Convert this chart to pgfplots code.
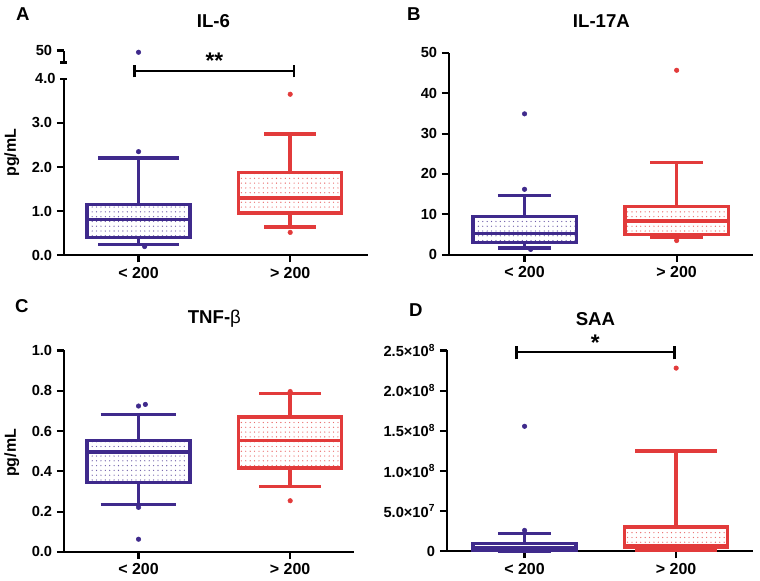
\documentclass[border=0pt]{standalone}
\usepackage{fontspec}
\setmainfont{Liberation Sans}
\usepackage{pgfplots}
\pgfplotsset{compat=1.18}
\usepgfplotslibrary{statistics}
\usetikzlibrary{patterns.meta}

\definecolor{cblue}{RGB}{63,42,140}
\definecolor{cred}{RGB}{226,59,59}

\tikzdeclarepattern{
  name=gpdots,
  type=uncolored,
  bottom left={(-.6pt,-.6pt)},
  top right={(.6pt,.6pt)},
  tile size={(3.3pt,3.6pt)},
  code={\fill (0pt,0pt) circle [radius=.5pt];}
}

\pgfplotsset{
  gp/.style={
    scale only axis, anchor=south west, clip=false,
    boxplot/draw direction=y,
    axis lines=left, axis line style={-, line width=1.65pt, black},
    tick align=outside, major tick length=5.25pt,
    tick style={line width=1.65pt, black},
    xtick={1,2}, xticklabels={{< 200},{> 200}},
    x tick label style={font=\bfseries\fontsize{12}{14}\selectfont},
    y tick label style={font=\bfseries\fontsize{11}{13}\selectfont},
    /pgf/number format/assume math mode=true,
  },
  bx/.style={#1, line width=2.6pt, solid,
    boxplot/every box/.append style={pattern=gpdots, pattern color=#1!75},
  },
  out/.style={only marks, mark=*, mark size=1.7pt, #1},
  sig/.style={black, line width=2pt, mark=none},
}

\begin{document}
\begin{tikzpicture}
\begin{scope}[x=0.75pt, y=-0.75pt]
\useasboundingbox (0,0) rectangle (760,582);
\end{scope}

% ---------- A: IL-6 ----------
\begin{axis}[gp, at={(46.5pt,-192pt)}, width=228.75pt, height=132.75pt,
  xmin=0.507, xmax=2.513, ymin=0, ymax=4,
  ytick={0,1,2,3}, extra y ticks={4}, extra y tick labels={4.0},
  extra y tick style={tick align=center},
  yticklabel style={/pgf/number format/fixed, /pgf/number format/fixed zerofill, /pgf/number format/precision=1}]
\addplot[bx=cblue, boxplot prepared={draw position=1, lower whisker=0.24, lower quartile=0.41,
  median=0.81, upper quartile=1.15, upper whisker=2.21, box extend=0.68, whisker extend=0.53}] coordinates {};
\addplot[bx=cred, boxplot prepared={draw position=2, lower whisker=0.64, lower quartile=0.96,
  median=1.30, upper quartile=1.88, upper whisker=2.75, box extend=0.68, whisker extend=0.34}] coordinates {};
\addplot[out=cblue] coordinates {(1,2.35) (1.04,0.2)};
\addplot[out=cred] coordinates {(2,3.65) (2,0.52)};
\addplot[sig] coordinates {(0.974,4.18) (2.026,4.18)};
\addplot[sig] coordinates {(0.974,4.03) (0.974,4.32)};
\addplot[sig] coordinates {(2.026,4.03) (2.026,4.32)};
\node[font=\bfseries\fontsize{17}{19}\selectfont] at (axis cs:1.5,4.42) {**};
\end{axis}
\begin{axis}[gp, at={(46.5pt,-47.03pt)}, width=228.75pt, height=9pt,
  axis x line=none, xtick=\empty,
  xmin=0.507, xmax=2.513, ymin=45, ymax=50,
  ytick={50}, yticklabels={50}, extra y ticks={45}, extra y tick labels={},
  extra y tick style={tick align=center}]
\addplot[out=cblue] coordinates {(1,49.3)};
\end{axis}

% ---------- B: IL-17A ----------
\begin{axis}[gp, at={(336pt,-191.48pt)}, width=228.75pt, height=151.7pt,
  xmin=0.502, xmax=2.502, ymin=0, ymax=50, ytick={0,10,20,30,40,50}]
\addplot[bx=cblue, boxplot prepared={draw position=1, lower whisker=1.7, lower quartile=3.05,
  median=5.2, upper quartile=9.4, upper whisker=14.7, box extend=0.68, whisker extend=0.35}] coordinates {};
\addplot[bx=cred, boxplot prepared={draw position=2, lower whisker=4.3, lower quartile=5.0,
  median=8.3, upper quartile=12.0, upper whisker=22.8, box extend=0.68, whisker extend=0.35}] coordinates {};
\addplot[out=cblue] coordinates {(1,34.9) (1,16.2) (1.04,1.3)};
\addplot[out=cred] coordinates {(2,45.7) (2,3.5)};
\end{axis}

% ---------- C: TNF-beta ----------
\begin{axis}[gp, at={(46.5pt,-414.98pt)}, width=218.25pt, height=151.5pt,
  xmin=0.507, xmax=2.421, ymin=0, ymax=1, ytick={0,0.2,0.4,0.6,0.8,1.0},
  yticklabel style={/pgf/number format/fixed, /pgf/number format/fixed zerofill, /pgf/number format/precision=1}]
\addplot[bx=cblue, boxplot prepared={draw position=1, lower whisker=0.236, lower quartile=0.344,
  median=0.496, upper quartile=0.553, upper whisker=0.681, box extend=0.68, whisker extend=0.5}] coordinates {};
\addplot[bx=cred, boxplot prepared={draw position=2, lower whisker=0.325, lower quartile=0.416,
  median=0.553, upper quartile=0.669, upper whisker=0.786, box extend=0.68, whisker extend=0.41}] coordinates {};
\addplot[out=cblue] coordinates {(1,0.724) (1.045,0.732) (1,0.221) (1,0.063)};
\addplot[out=cred] coordinates {(2,0.796) (2,0.254)};
\end{axis}

% ---------- D: SAA (values in units of 10^7) ----------
\begin{axis}[gp, at={(334.5pt,-414.53pt)}, width=230.25pt, height=151.05pt,
  xmin=0.487, xmax=2.507, ymin=0, ymax=25,
  ytick={0,5,10,15,20,25},
  yticklabels={0, 5.0×10\textsuperscript{7}, 1.0×10\textsuperscript{8}, 1.5×10\textsuperscript{8}, 2.0×10\textsuperscript{8}, 2.5×10\textsuperscript{8}}]
\addplot[bx=cblue, boxplot prepared={draw position=1, lower whisker=0.05, lower quartile=0.12,
  median=0.5, upper quartile=1.0, upper whisker=2.2, box extend=0.68, whisker extend=0.35}] coordinates {};
\addplot[bx=cred, boxplot prepared={draw position=2, lower whisker=0.15, lower quartile=0.45,
  median=0.75, upper quartile=3.0, upper whisker=12.5, box extend=0.68, whisker extend=0.54}] coordinates {};
\addplot[out=cblue] coordinates {(1,2.6) (1,15.56)};
\addplot[out=cred] coordinates {(2,22.8)};
\addplot[sig] coordinates {(0.945,24.8) (1.987,24.8)};
\addplot[sig] coordinates {(0.945,23.9) (0.945,25.6)};
\addplot[sig] coordinates {(1.987,23.9) (1.987,25.6)};
\node[font=\bfseries\fontsize{17}{19}\selectfont] at (axis cs:1.466,25.9) {*};
\end{axis}

% ---------- titles, panel letters, axis labels ----------
\begin{scope}[x=0.75pt, y=-0.75pt, every node/.style={font=\bfseries\fontsize{14}{16}\selectfont}]
\node at (21,14) {A};
\node at (413,14) {B};
\node at (20,307) {C};
\node at (415,311) {D};
\node at (212,21) {IL-6};
\node at (601,21) {IL-17A};
\node at (213,319) {TNF-\textmd{β}};
\node at (595,320) {SAA};
\node[rotate=90, font=\bfseries\fontsize{12}{14}\selectfont] at (10,153) {pg/mL};
\node[rotate=90, font=\bfseries\fontsize{12}{14}\selectfont] at (10,454) {pg/mL};
\end{scope}
\end{tikzpicture}
\end{document}
